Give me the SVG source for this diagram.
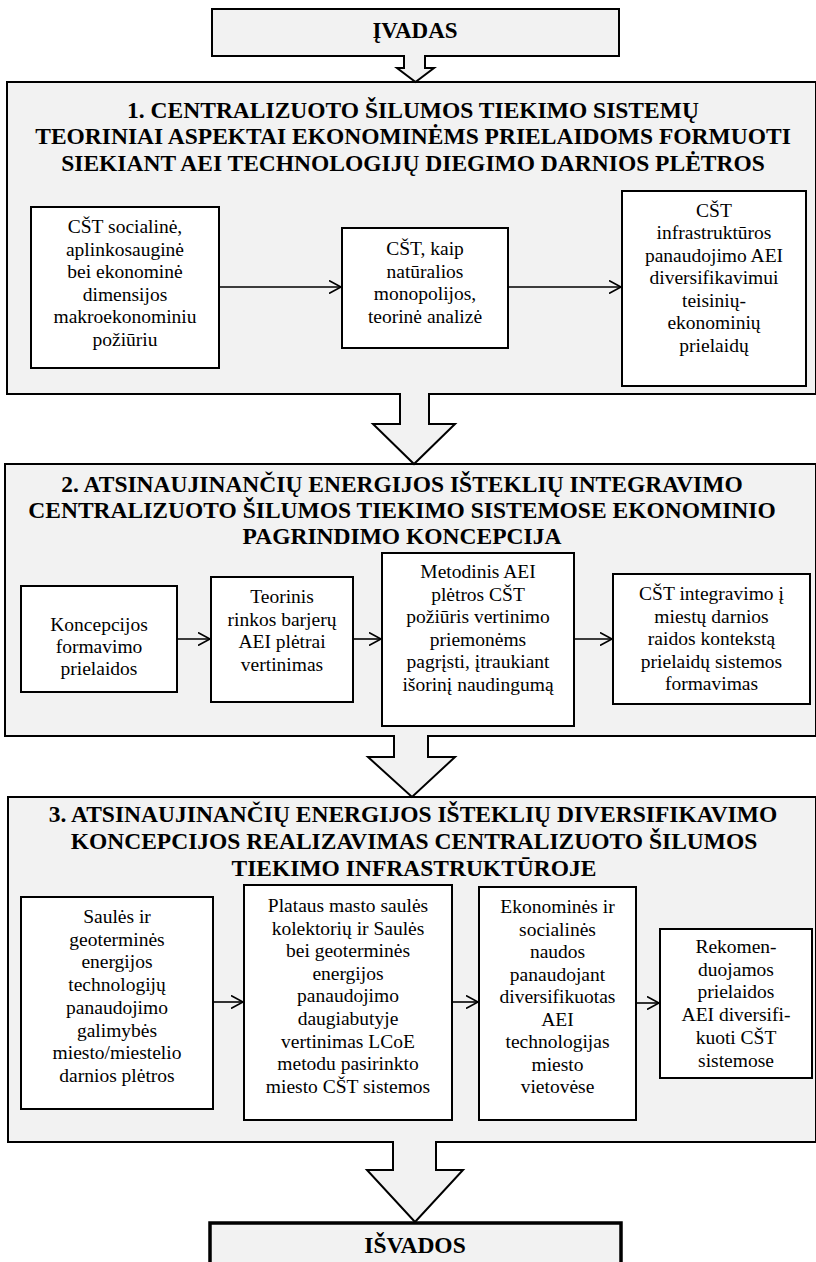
<svg xmlns="http://www.w3.org/2000/svg" width="816" height="1262" viewBox="0 0 816 1262">
<defs>
<style>
.sec{fill:#f2f2f2;stroke:#000;stroke-width:2}
.box{fill:#fff;stroke:#000;stroke-width:2}
.ttl{font-family:"Liberation Serif","Times New Roman",serif;font-weight:bold;font-size:23.5px;text-anchor:middle;fill:#000}
.txt{font-family:"Liberation Serif","Times New Roman",serif;font-size:19.5px;text-anchor:middle;fill:#000}
.ln{stroke:#000;stroke-width:1.6;fill:none;marker-end:url(#chev)}
.blk{fill:#f2f2f2;stroke:#000;stroke-width:2;stroke-linejoin:miter}
</style>
<marker id="chev" markerUnits="userSpaceOnUse" markerWidth="14" markerHeight="14" refX="12" refY="7" orient="auto" viewBox="0 0 14 14">
<path d="M0,0.5 L12,7 L0,13.5" fill="none" stroke="#000" stroke-width="1.6"/>
</marker>
</defs>
<rect width="816" height="1262" fill="#fff"/>

<g id="ivadas">
<rect class="sec" x="212" y="9" width="407" height="47"/>
<text class="ttl" x="415" y="38" style="font-size:23px">ĮVADAS</text>
</g>

<g id="section1">
<rect class="sec" x="7" y="82" width="809" height="312"/>
<text class="ttl" x="413" y="117.5">1. CENTRALIZUOTO ŠILUMOS TIEKIMO SISTEMŲ</text>
<text class="ttl" x="413" y="144">TEORINIAI ASPEKTAI EKONOMINĖMS PRIELAIDOMS FORMUOTI</text>
<text class="ttl" x="413" y="171">SIEKIANT AEI TECHNOLOGIJŲ DIEGIMO DARNIOS PLĖTROS</text>
</g>
<g id="n1a">
<rect class="box" x="31" y="207" width="188" height="161"/>
<text class="txt" x="125" y="233">CŠT socialinė,</text>
<text class="txt" x="125" y="255.5">aplinkosauginė</text>
<text class="txt" x="125" y="278">bei ekonominė</text>
<text class="txt" x="125" y="300.5">dimensijos</text>
<text class="txt" x="125" y="323">makroekonominiu</text>
<text class="txt" x="125" y="345.5">požiūriu</text>
</g>
<g id="n1b">
<rect class="box" x="342" y="228" width="166" height="120"/>
<text class="txt" x="425" y="255">CŠT, kaip</text>
<text class="txt" x="425" y="277.5">natūralios</text>
<text class="txt" x="425" y="300">monopolijos,</text>
<text class="txt" x="425" y="322.5">teorinė analizė</text>
</g>
<g id="n1c">
<rect class="box" x="622" y="191" width="184" height="195"/>
<text class="txt" x="714" y="216.5">CŠT</text>
<text class="txt" x="714" y="239">infrastruktūros</text>
<text class="txt" x="714" y="261.5">panaudojimo AEI</text>
<text class="txt" x="714" y="284">diversifikavimui</text>
<text class="txt" x="714" y="306.5">teisinių-</text>
<text class="txt" x="714" y="329">ekonominių</text>
<text class="txt" x="714" y="351.5">prielaidų</text>
</g>

<g id="section2">
<rect class="sec" x="5" y="464" width="811" height="272"/>
<text class="ttl" x="402" y="492">2. ATSINAUJINANČIŲ ENERGIJOS IŠTEKLIŲ INTEGRAVIMO</text>
<text class="ttl" x="402" y="518">CENTRALIZUOTO ŠILUMOS TIEKIMO SISTEMOSE EKONOMINIO</text>
<text class="ttl" x="402" y="544">PAGRINDIMO KONCEPCIJA</text>
</g>
<g id="n2a">
<rect class="box" x="21" y="586" width="156" height="106"/>
<text class="txt" x="99" y="631">Koncepcijos</text>
<text class="txt" x="99" y="653">formavimo</text>
<text class="txt" x="99" y="675">prielaidos</text>
</g>
<g id="n2b">
<rect class="box" x="211" y="577" width="142" height="125"/>
<text class="txt" x="282" y="603">Teorinis</text>
<text class="txt" x="282" y="625.5">rinkos barjerų</text>
<text class="txt" x="282" y="648">AEI plėtrai</text>
<text class="txt" x="282" y="670.5">vertinimas</text>
</g>
<g id="n2c">
<rect class="box" x="382" y="553" width="192" height="173"/>
<text class="txt" x="478" y="578">Metodinis AEI</text>
<text class="txt" x="478" y="600.5">plėtros CŠT</text>
<text class="txt" x="478" y="623">požiūris vertinimo</text>
<text class="txt" x="478" y="645.5">priemonėms</text>
<text class="txt" x="478" y="668">pagrįsti, įtraukiant</text>
<text class="txt" x="478" y="690.5">išorinį naudingumą</text>
</g>
<g id="n2d">
<rect class="box" x="613" y="574" width="197" height="130"/>
<text class="txt" x="711.5" y="600">CŠT integravimo į</text>
<text class="txt" x="711.5" y="622.5">miestų darnios</text>
<text class="txt" x="711.5" y="645">raidos kontekstą</text>
<text class="txt" x="711.5" y="667.5">prielaidų sistemos</text>
<text class="txt" x="711.5" y="690">formavimas</text>
</g>

<g id="section3">
<rect class="sec" x="8" y="797" width="808" height="345"/>
<text class="ttl" x="413" y="822">3. ATSINAUJINANČIŲ ENERGIJOS IŠTEKLIŲ DIVERSIFIKAVIMO</text>
<text class="ttl" x="414" y="849">KONCEPCIJOS REALIZAVIMAS CENTRALIZUOTO ŠILUMOS</text>
<text class="ttl" x="414" y="876">TIEKIMO INFRASTRUKTŪROJE</text>
</g>
<g id="n3a">
<rect class="box" x="21" y="897" width="192" height="212"/>
<text class="txt" x="117" y="923">Saulės ir</text>
<text class="txt" x="117" y="945.7">geoterminės</text>
<text class="txt" x="117" y="968.4">energijos</text>
<text class="txt" x="117" y="991.1">technologijų</text>
<text class="txt" x="117" y="1013.8">panaudojimo</text>
<text class="txt" x="117" y="1036.5">galimybės</text>
<text class="txt" x="117" y="1059.2">miesto/miestelio</text>
<text class="txt" x="117" y="1081.9">darnios plėtros</text>
</g>
<g id="n3b">
<rect class="box" x="244" y="885" width="208" height="235"/>
<text class="txt" x="348" y="912">Plataus masto saulės</text>
<text class="txt" x="348" y="934.6">kolektorių ir Saulės</text>
<text class="txt" x="348" y="957.2">bei geoterminės</text>
<text class="txt" x="348" y="979.8">energijos</text>
<text class="txt" x="348" y="1002.4">panaudojimo</text>
<text class="txt" x="348" y="1025">daugiabutyje</text>
<text class="txt" x="348" y="1047.6">vertinimas LCoE</text>
<text class="txt" x="348" y="1070.2">metodu pasirinkto</text>
<text class="txt" x="348" y="1092.8">miesto CŠT sistemos</text>
</g>
<g id="n3c">
<rect class="box" x="479" y="887" width="157" height="233"/>
<text class="txt" x="557.5" y="913">Ekonominės ir</text>
<text class="txt" x="557.5" y="935.5">socialinės</text>
<text class="txt" x="557.5" y="958">naudos</text>
<text class="txt" x="557.5" y="980.5">panaudojant</text>
<text class="txt" x="557.5" y="1003">diversifikuotas</text>
<text class="txt" x="557.5" y="1025.5">AEI</text>
<text class="txt" x="557.5" y="1048">technologijas</text>
<text class="txt" x="557.5" y="1070.5">miesto</text>
<text class="txt" x="557.5" y="1093">vietovėse</text>
</g>
<g id="n3d">
<rect class="box" x="660" y="929" width="152" height="149"/>
<text class="txt" x="736" y="953">Rekomen-</text>
<text class="txt" x="736" y="975.7">duojamos</text>
<text class="txt" x="736" y="998.4">prielaidos</text>
<text class="txt" x="736" y="1021.1">AEI diversifi-</text>
<text class="txt" x="736" y="1043.8">kuoti CŠT</text>
<text class="txt" x="736" y="1066.5">sistemose</text>
</g>

<g id="isvados">
<rect x="210" y="1223" width="411" height="60" fill="#f2f2f2" stroke="#000" stroke-width="3.5"/>
<text class="ttl" x="415" y="1253">IŠVADOS</text>
</g>

<g id="connectors">
<line class="ln" x1="219" y1="287" x2="341" y2="287"/>
<line class="ln" x1="508" y1="287" x2="621" y2="287"/>
<line class="ln" x1="177" y1="639" x2="210" y2="639"/>
<line class="ln" x1="353" y1="639" x2="381" y2="639"/>
<line class="ln" x1="574" y1="639" x2="612" y2="639"/>
<line class="ln" x1="213" y1="1002" x2="243" y2="1002"/>
<line class="ln" x1="452" y1="1002" x2="478" y2="1002"/>
<line class="ln" x1="636" y1="1003" x2="659" y2="1003"/>
<path class="blk" d="M404,55 L404,68 L397,68 L415.5,82 L434,68 L425,68 L425,55"/>
<path class="blk" d="M400,393 L400,424 L373,424 L414,464 L455,424 L429,424 L429,393"/>
<path class="blk" d="M394,735 L394,757 L368,757 L412,797 L455,757 L428,757 L428,735"/>
<path class="blk" d="M393,1141 L393,1170 L367,1170 L415,1222 L463,1170 L436,1170 L436,1141"/>
</g>
</svg>
